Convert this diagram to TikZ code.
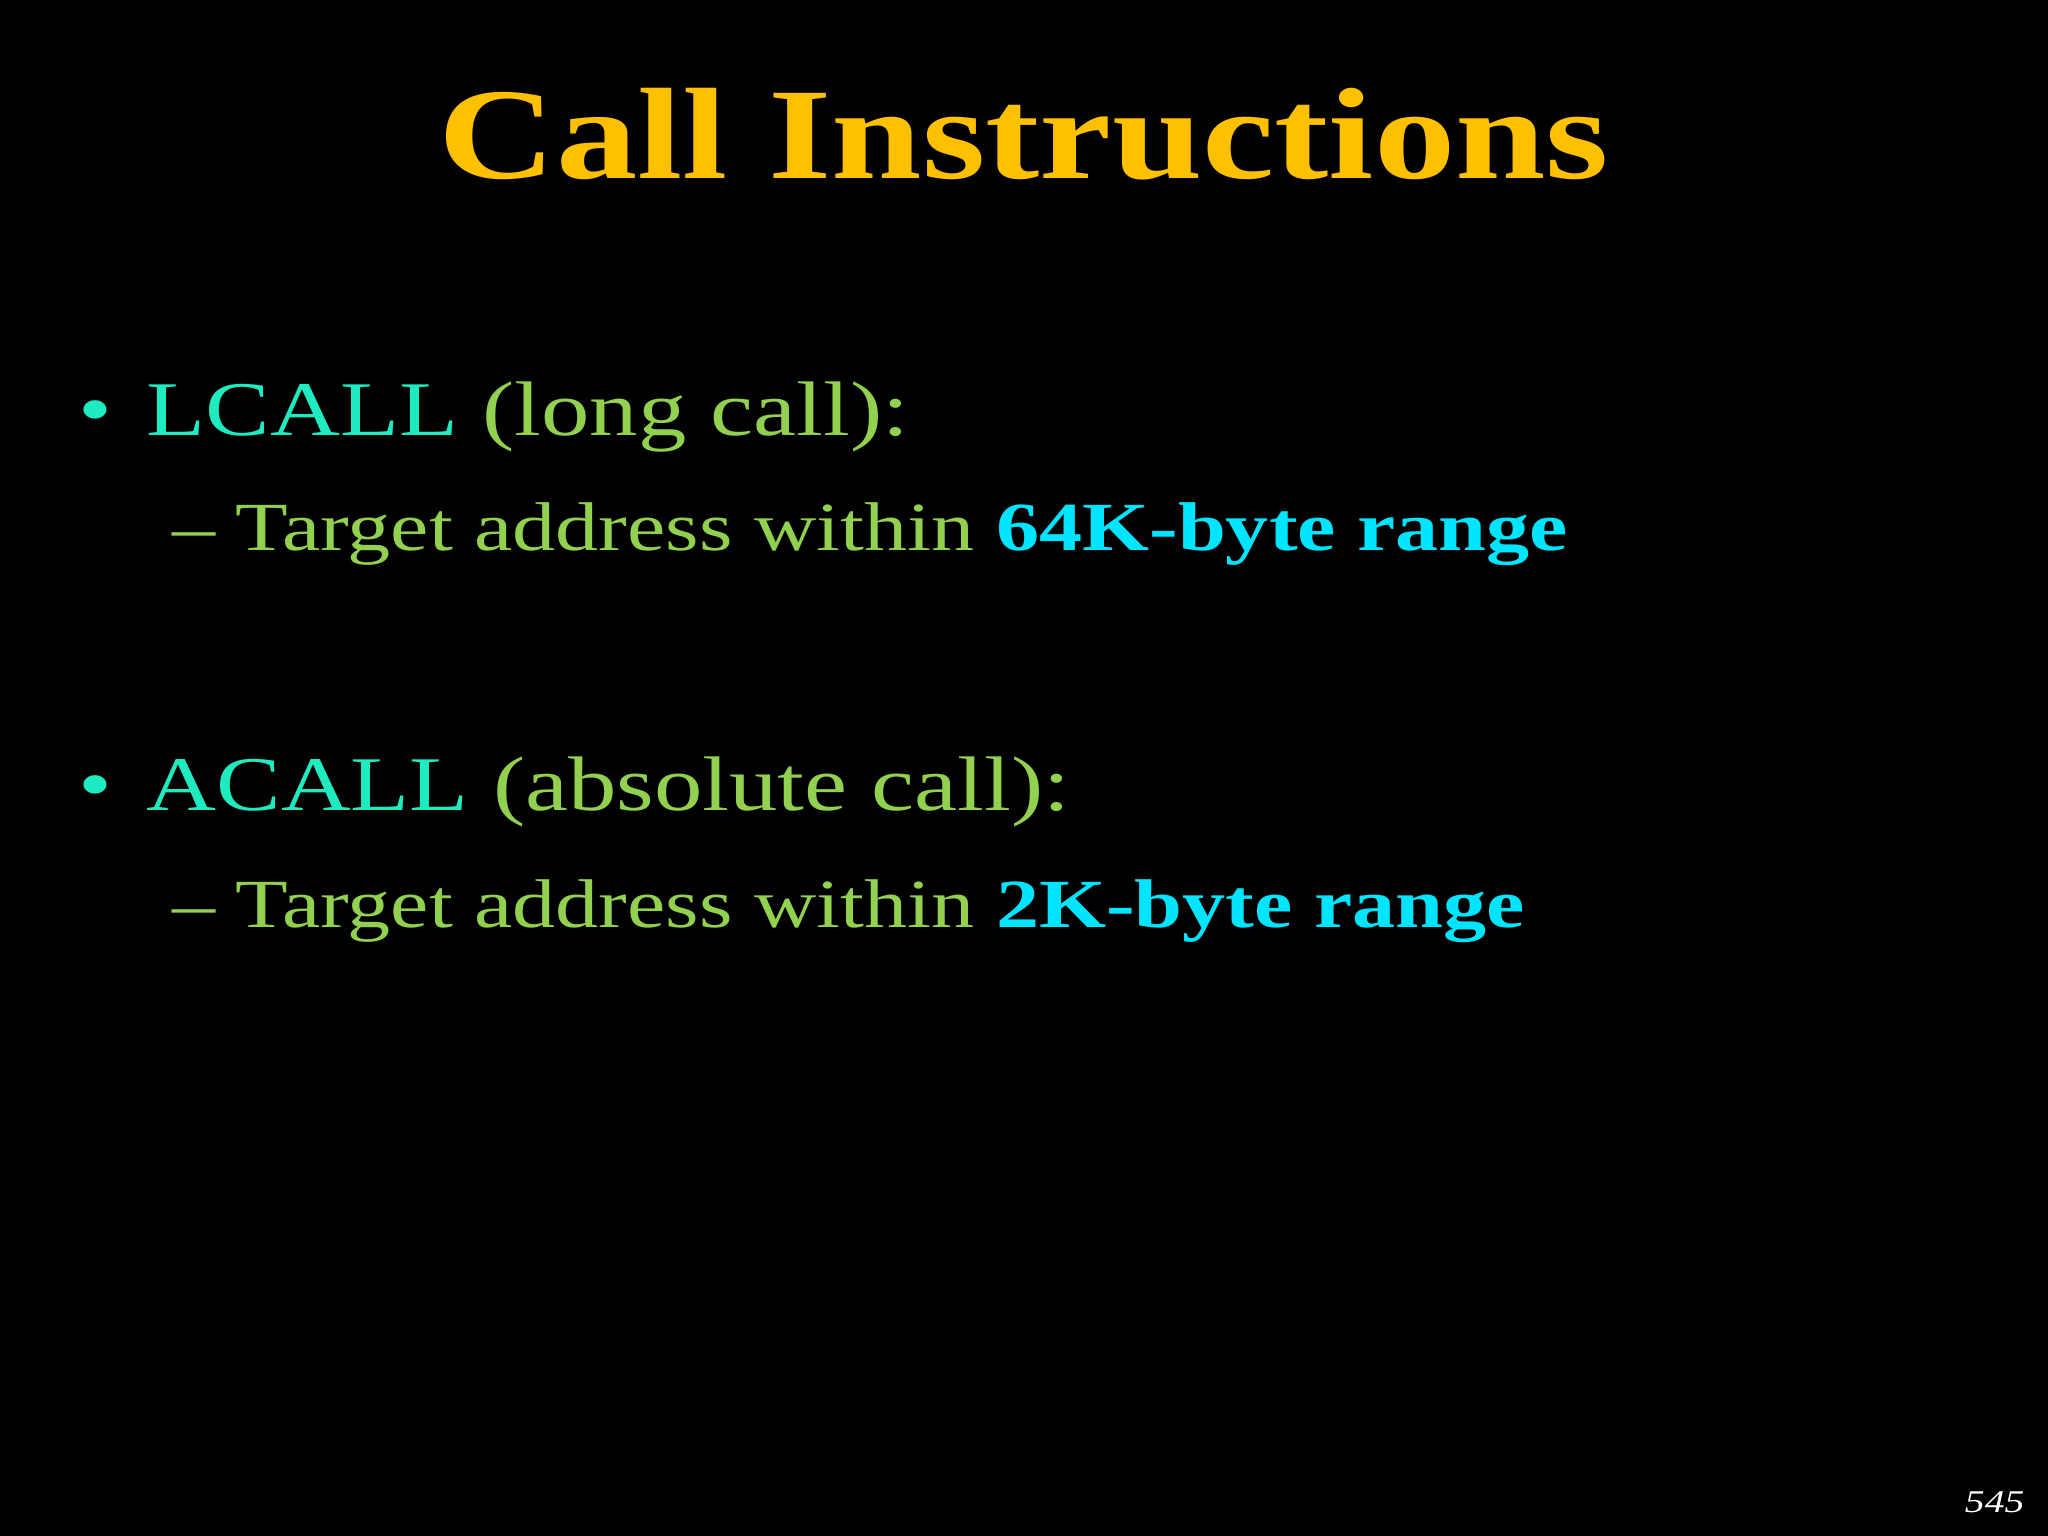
\documentclass[tikz,border=0pt]{standalone}
\usepackage{fontspec}
\setmainfont{Liberation Serif}[FakeStretch=1.25]
\definecolor{gold}{HTML}{FFC000}
\definecolor{teal1}{HTML}{1EEBC0}
\definecolor{grn}{HTML}{92D050}
\definecolor{cy}{HTML}{00E5FF}
\begin{document}
\begin{tikzpicture}[x=0.01cm,y=-0.01cm,
  txt/.style={anchor=base west,inner sep=0pt},
  lvl1/.style={txt,font=\fontsize{22}{26}\selectfont},
  lvl2/.style={txt,font=\fontsize{19.6}{22}\selectfont,text=grn}]
\fill[black] (0,0) rectangle (2048,1536);
\useasboundingbox (0,0) rectangle (2048,1536);
\node[anchor=base,inner sep=0pt,text=gold,font=\bfseries\fontsize{37}{42}\selectfont] (title) at (1024,178) {Call Instructions};
\node[lvl1,text=teal1] (d1) at (78,435) {\textbullet};
\node[lvl1,text=teal1] (b1) at (146,435) {LCALL \textcolor{grn}{(long call):}};
\node[lvl2] (e1) at (172,550) {\textendash};
\node[lvl2] (s1) at (235,550) {Target address within \textcolor{cy}{\bfseries 64K-byte range}};
\node[lvl1,text=teal1] (d2) at (78,810) {\textbullet};
\node[lvl1,text=teal1] (b2) at (146,810) {ACALL \textcolor{grn}{(absolute call):}};
\node[lvl2] (e2) at (172,927) {\textendash};
\node[lvl2] (s2) at (235,927) {Target address within \textcolor{cy}{\bfseries 2K-byte range}};
\node[anchor=base east,inner sep=0pt,text=white,font=\itshape\fontsize{9}{10}\selectfont] (pg) at (2025,1512) {545};
\end{tikzpicture}
\end{document}
